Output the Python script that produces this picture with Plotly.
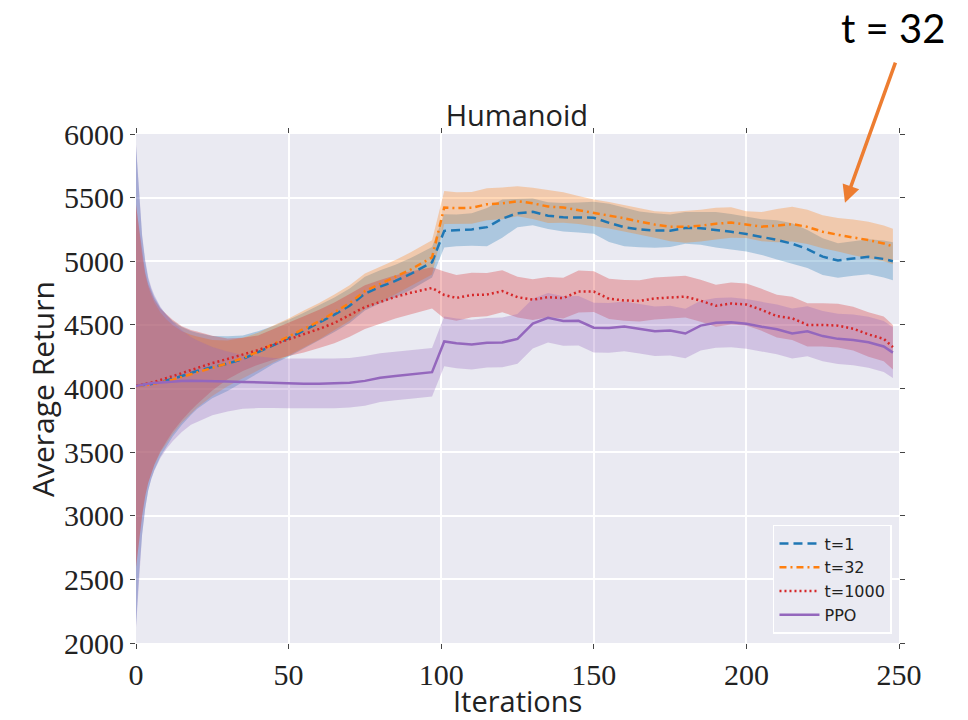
import plotly.graph_objects as go

iterations = [0, 1, 2, 3, 4, 5, 6, 8, 10, 12,
              15, 18, 20, 25, 30, 35, 40, 45, 50, 55,
              60, 65, 70, 75, 80, 85, 90, 94, 97, 101,
              105, 110, 115, 120, 125, 130, 135, 140, 145, 150,
              155, 160, 165, 170, 175, 180, 185, 190, 195, 200,
              205, 210, 215, 220, 225, 230, 235, 240, 245, 248]

t1_mean = [4020, 4022, 4025, 4028, 4031, 4035, 4039, 4050, 4063, 4076,
           4098, 4122, 4138, 4168, 4195, 4232, 4285, 4342, 4395, 4455,
           4515, 4580, 4650, 4745, 4800, 4845, 4900, 4950, 4992, 5239,
           5243, 5250, 5268, 5335, 5378, 5388, 5358, 5345, 5344, 5342,
           5302, 5268, 5250, 5242, 5240, 5262, 5260, 5248, 5232, 5214,
           5190, 5168, 5138, 5096, 5036, 5006, 5022, 5035, 5018, 5000]
t1_std = [1880, 1480, 1170, 970, 830, 745, 680, 585, 515, 455,
          385, 330, 300, 245, 215, 185, 165, 150, 145, 140,
          138, 136, 135, 133, 130, 128, 125, 122, 120, 130,
          125, 128, 150, 150, 110, 105, 105, 112, 118, 125,
          150, 150, 140, 135, 128, 125, 130, 140, 140, 138,
          140, 155, 160, 150, 145, 135, 135, 138, 145, 150]

t32_mean = [4020, 4021, 4023, 4026, 4029, 4033, 4037, 4047, 4058, 4070,
            4090, 4112, 4128, 4162, 4198, 4238, 4290, 4350, 4405, 4468,
            4528, 4598, 4672, 4765, 4820, 4875, 4935, 4990, 5030, 5422,
            5418, 5420, 5448, 5455, 5472, 5455, 5430, 5422, 5402, 5380,
            5362, 5338, 5312, 5288, 5272, 5271, 5280, 5295, 5304, 5288,
            5272, 5280, 5292, 5270, 5232, 5208, 5188, 5166, 5140, 5116]
t32_std = [1430, 1220, 1020, 870, 770, 700, 640, 550, 485, 430,
           360, 310, 280, 220, 180, 160, 148, 145, 145, 145,
           143, 140, 140, 138, 136, 135, 135, 135, 135, 130,
           125, 125, 125, 125, 118, 122, 130, 120, 110, 105,
           104, 104, 104, 104, 115, 125, 125, 125, 120, 105,
           115, 130, 136, 135, 130, 131, 140, 144, 140, 139]

t1000_mean = [4020, 4024, 4029, 4034, 4040, 4046, 4052, 4066, 4085, 4100,
              4120, 4145, 4162, 4200, 4232, 4268, 4302, 4345, 4385, 4425,
              4468, 4515, 4575, 4640, 4680, 4720, 4752, 4775, 4790, 4735,
              4712, 4735, 4738, 4765, 4718, 4698, 4718, 4710, 4762, 4762,
              4705, 4692, 4688, 4708, 4716, 4722, 4690, 4650, 4668, 4660,
              4618, 4568, 4552, 4500, 4500, 4494, 4470, 4425, 4390, 4325]
t1000_std = [1420, 1230, 1030, 880, 780, 710, 650, 560, 500, 440,
             370, 315, 285, 215, 160, 130, 115, 120, 130, 142,
             150, 160, 168, 172, 172, 170, 168, 165, 162, 185,
             180, 175, 170, 165, 160, 160, 158, 160, 165, 160,
             158, 160, 162, 165, 165, 165, 165, 165, 165, 165,
             165, 168, 170, 170, 170, 172, 172, 175, 175, 175]

ppo_mean = [4020, 4025, 4030, 4034, 4038, 4041, 4044, 4048, 4052, 4055,
            4058, 4060, 4060, 4058, 4055, 4052, 4048, 4043, 4040, 4038,
            4038, 4040, 4045, 4060, 4085, 4098, 4110, 4118, 4128, 4370,
            4355, 4345, 4360, 4362, 4390, 4510, 4556, 4530, 4532, 4478,
            4476, 4488, 4470, 4450, 4455, 4432, 4494, 4516, 4520, 4508,
            4485, 4465, 4432, 4450, 4412, 4390, 4382, 4364, 4330, 4282]
ppo_std = [1900, 1500, 1180, 980, 840, 755, 690, 595, 525, 470,
           400, 345, 320, 268, 235, 212, 202, 197, 196, 196,
           195, 195, 195, 195, 192, 190, 190, 190, 190, 195,
           195, 195, 195, 195, 195, 195, 195, 195, 195, 195,
           195, 195, 195, 195, 195, 195, 195, 195, 195, 195,
           196, 196, 197, 197, 198, 198, 199, 200, 200, 200]

series_names = ["t=1", "t=32", "t=1000", "PPO"]
series_means = [t1_mean, t32_mean, t1000_mean, ppo_mean]
series_stds = [t1_std, t32_std, t1000_std, ppo_std]
line_colors = ["#1f77b4", "#ff7f0e", "#d62728", "#9467bd"]
fill_colors = ["rgba(31,119,180,0.3)", "rgba(255,127,14,0.3)",
               "rgba(214,39,40,0.3)", "rgba(148,103,189,0.3)"]
dashes = ["9px,5px", "7px,4px,2px,4px", "2px,3px", "solid"]

x_ticks = [0, 50, 100, 150, 200, 250]
y_ticks = [2000, 2500, 3000, 3500, 4000, 4500, 5000, 5500, 6000]

fig = go.Figure()

for m, s, fc in zip(series_means, series_stds, fill_colors):
    upper = [a + b for a, b in zip(m, s)]
    lower = [a - b for a, b in zip(m, s)]
    fig.add_trace(go.Scatter(
        x=iterations + iterations[::-1], y=upper + lower[::-1],
        fill="toself", fillcolor=fc, line=dict(width=0), mode="lines",
        hoverinfo="skip", showlegend=False))

for name, m, lc, d in zip(series_names, series_means, line_colors, dashes):
    fig.add_trace(go.Scatter(
        x=iterations, y=m, mode="lines", name=name,
        line=dict(color=lc, width=2.5, dash=d)))

axis_common = dict(
    showgrid=True, gridcolor="white", gridwidth=1.5, zeroline=False,
    ticks="outside", ticklen=5, tickwidth=1, tickcolor="#444",
    mirror="ticks", showline=False,
    tickfont=dict(family="Liberation Serif", size=30, color="#222"),
)

fig.update_xaxes(range=[0, 250], tickvals=x_ticks, **axis_common)
fig.update_yaxes(range=[2000, 6000], tickvals=y_ticks, tickformat="d", **axis_common)

sans = "Open Sans"
fig.update_layout(
    width=968, height=720,
    margin=dict(l=136, r=69, t=134, b=77),
    paper_bgcolor="white", plot_bgcolor="#EAEAF2",
    title=dict(text="Humanoid", x=0.534, y=0.839, xanchor="center", yanchor="middle",
               font=dict(family=sans, size=29, color="#222")),
    legend=dict(x=0.9908, y=0.0177, xanchor="right", yanchor="bottom",
                bgcolor="#EAEAF2", bordercolor="#FFFFFF", borderwidth=1.5,
                itemwidth=40,
                font=dict(family="DejaVu Sans", size=16, color="#222")),
    annotations=[
        dict(text="Average Return", xref="paper", yref="paper", x=-0.1226, y=0.5,
             textangle=-90, showarrow=False, xanchor="center", yanchor="middle",
             font=dict(family=sans, size=30, color="#222")),
        dict(text="Iterations", xref="paper", yref="paper", x=0.4996, y=-0.112,
             showarrow=False, xanchor="center", yanchor="middle",
             font=dict(family=sans, size=29, color="#222")),
        dict(text="t = 32", xref="paper", yref="paper", x=0.992, y=1.209,
             showarrow=False, xanchor="center", yanchor="middle",
             font=dict(family="Lato", size=40, color="black")),
        dict(text="", xref="x", yref="y", x=232.3, y=5459,
             axref="x", ayref="y", ax=249, ay=6573,
             showarrow=True, arrowhead=2, arrowsize=1, arrowwidth=3.5,
             arrowcolor="#ED7D31", standoff=0),
    ],
)

fig.write_html("out.html")
